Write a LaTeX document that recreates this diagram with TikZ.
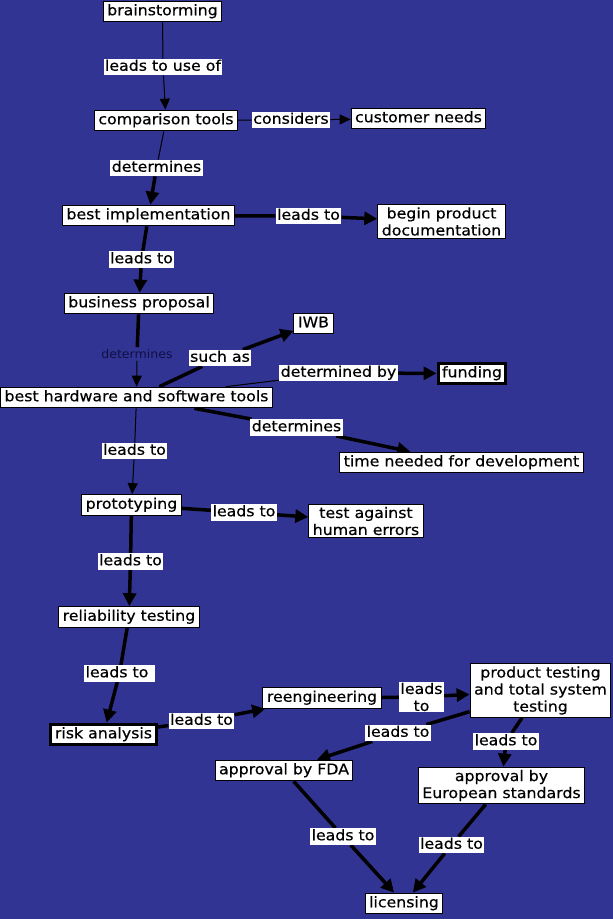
\documentclass[tikz,border=0pt]{standalone}
\usepackage{fontspec}
\setmainfont[FakeStretch=1.08,FakeBold=0.4]{DejaVu Sans}
\newfontfamily\smallfam[FakeStretch=1.05]{DejaVu Sans}
\usetikzlibrary{arrows.meta}
\definecolor{bgblue}{RGB}{50,52,148}
\definecolor{smalltxt}{RGB}{15,15,70}
\newcommand{\nfont}{\fontsize{14.6}{17}\selectfont}
\newcommand{\sfont}{\smallfam\fontsize{12}{14}\selectfont}
\pgfdeclarelayer{bg}
\pgfdeclarelayer{edges}
\pgfsetlayers{bg,edges,main}
\tikzset{
  box/.style={draw=black, fill=white, line width=1pt, inner xsep=4pt, inner ysep=2.6pt,
    font=\nfont, align=center, text height=11.5pt, text depth=4pt},
  multibox/.style={box, text height={}, text depth={}, inner ysep=2.8pt},
  strongbox/.style={box, line width=3pt},
  lab/.style={fill=white, inner xsep=1.5pt, inner ysep=1pt, font=\nfont, align=center,
    text height=11pt, text depth=3.5pt},
  multilab/.style={lab, text height={}, text depth={}},
  plainlab/.style={font=\sfont, text=smalltxt, inner sep=2pt},
  thinln/.style={draw=black, line width=1pt},
  thickln/.style={draw=black, line width=3.5pt},
  thinarr/.style={thinln, -{Triangle[length=11pt,width=10pt]}},
  thickarr/.style={thickln, -{Triangle[length=13pt,width=13pt]}},
}
\begin{document}
\begin{tikzpicture}[x=1pt,y=-1pt]
\begin{pgfonlayer}{bg}
\fill[bgblue] (0,0) rectangle (613,919);
\end{pgfonlayer}
\useasboundingbox (0,0) rectangle (613,919);

% concept nodes
\node[box] (bs) at (162.5,11.5) {brainstorming};
\node[box] (ct) at (166,120.5) {comparison tools};
\node[box] (cn) at (418.5,118.5) {customer needs};
\node[box] (bi) at (148.5,215.5) {best implementation};
\node[multibox] (doc) at (441.5,221.5) {begin product\\documentation};
\node[box] (bp) at (139,303.5) {business proposal};
\node[box] (iwb) at (313.5,323.5) {IWB};
\node[strongbox] (fund) at (472,373.5) {funding};
\node[box] (hw) at (136.5,397.5) {best hardware and software tools};
\node[box] (time) at (461.5,462.5) {time needed for development};
\node[box] (proto) at (131.5,505) {prototyping};
\node[multibox] (test) at (366,521) {test against\\human errors};
\node[box] (rel) at (129,617) {reliability testing};
\node[strongbox] (risk) at (103.5,734.5) {risk analysis};
\node[box] (reeng) at (322,698) {reengineering};
\node[multibox] (prod) at (540.5,690.5) {product testing\\and total system\\testing};
\node[box] (fda) at (284,770.5) {approval by FDA};
\node[multibox] (eu) at (501.5,785.5) {approval by\\European standards};
\node[box] (lic) at (404,903.5) {licensing};

% link labels
\node[lab] (l1) at (163,67) {leads to use of};
\node[lab] (l2) at (291,120) {considers};
\node[lab] (l3) at (156.5,168) {determines};
\node[lab] (l4) at (308.5,216) {leads to};
\node[lab] (l5) at (141.5,259.5) {leads to};
\node[plainlab] (l6) at (137,354) {determines};
\node[lab] (l7) at (220,358) {such as};
\node[lab] (l8) at (338.5,373) {determined by};
\node[lab] (l9) at (296.5,427.5) {determines};
\node[lab] (l10) at (134.5,451) {leads to};
\node[lab] (l11) at (244,512.5) {leads to};
\node[lab] (l12) at (130.5,561.5) {leads to};
\node[lab] (l13) at (119.5,673.5) {leads to\ };
\node[lab] (l14) at (201.5,721) {leads to};
\node[multilab] (l15) at (421.5,697) {leads\\to};
\node[lab] (l16) at (398,733) {leads to};
\node[lab] (l17) at (506,741.5) {leads to};
\node[lab] (l18) at (343,836.5) {leads to};
\node[lab] (l19) at (451.5,845) {leads to};

\begin{pgfonlayer}{edges}
\draw[thinln] (bs) -- (l1);   \draw[thinarr] (l1) -- (ct);
\draw[thinln] (ct) -- (l2);   \draw[thinarr] (l2) -- (cn);
\draw[thinln] (ct) -- (l3);   \draw[thickarr] (l3) -- (bi);
\draw[thickln] (bi) -- (l4);  \draw[thickarr] (l4) -- (doc);
\draw[thickln] (bi) -- (l5);  \draw[thickarr] (l5) -- (bp);
\draw[thickln] (bp) -- (l6);  \draw[thinarr] (l6) -- (hw);
\draw[thickln] (hw) -- (l7);  \draw[thickarr] (l7) -- (iwb);
\draw[thinln] (hw) -- (l8);   \draw[thickarr] (l8) -- (fund);
\draw[thickln] (hw) -- (l9);  \draw[thickarr] (l9) -- (time);
\draw[thinln] (hw) -- (l10);  \draw[thinarr] (l10) -- (proto);
\draw[thickln] (proto) -- (l11); \draw[thickarr] (l11) -- (test);
\draw[thickln] (proto) -- (l12); \draw[thickarr] (l12) -- (rel);
\draw[thickln] (rel) -- (l13);   \draw[thickarr] (l13) -- (risk);
\draw[thickln] (risk) -- (l14);  \draw[thickarr] (l14) -- (reeng);
\draw[thickln] (reeng) -- (l15); \draw[thickarr] (l15) -- (prod);
\draw[thickln] (prod) -- (l16);  \draw[thickarr] (l16) -- (fda);
\draw[thickln] (prod) -- (l17);  \draw[thickarr] (l17) -- (eu);
\draw[thickln] (fda) -- (l18);   \draw[thickarr] (l18) -- (lic);
\draw[thickln] (eu) -- (l19);    \draw[thickarr] (l19) -- (lic);
\end{pgfonlayer}
\end{tikzpicture}
\end{document}
